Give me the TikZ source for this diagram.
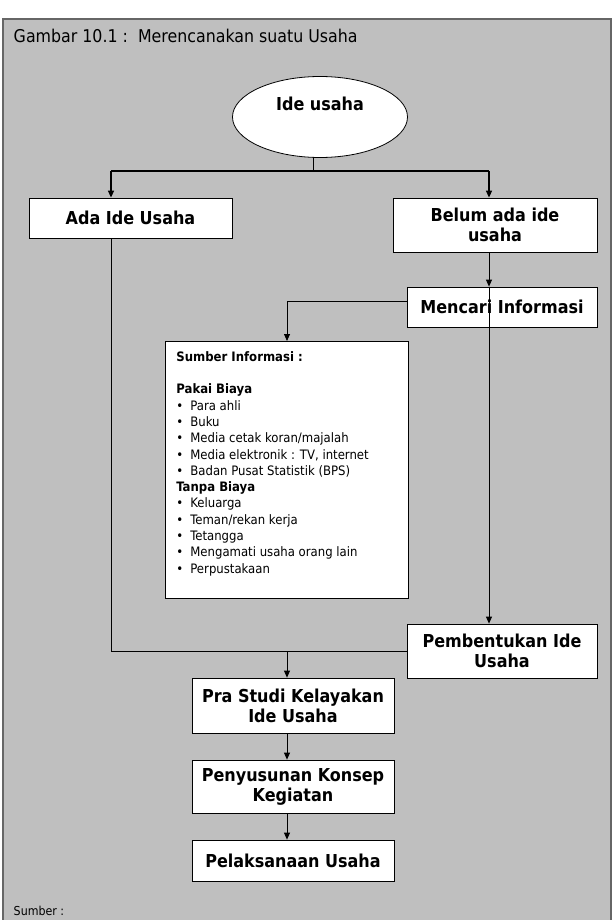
\documentclass[tikz,border=0pt]{standalone}
\usepackage{fontspec}
\setmainfont{DejaVu Sans Condensed}
\usetikzlibrary{arrows.meta,shapes.geometric}
\newcommand{\butir}[1]{\makebox[14pt][l]{\textbullet}#1}
\begin{document}
\begin{tikzpicture}[x=1pt, y=-1pt, line width=0.8pt, >={Triangle[length=7pt,width=6pt]},
main box/.style={rectangle,draw,fill=white,align=center,inner sep=0pt,font=\bfseries\fontsize{17.8}{20}\selectfont},
info box/.style={rectangle,draw,fill=white,anchor=north west,inner xsep=11pt,inner ysep=10pt,font=\fontsize{13}{16.3}\selectfont}]
\useasboundingbox (0,0) rectangle (614,920);
\draw[fill=black!25, draw=black!60, line width=1.5pt] (3,19) rectangle (611,940);
\begin{scope}[every node/.style={font=\fontsize{17.6}{20}\selectfont}]
\node[anchor=west] (judul) at (10,36) {Gambar 10.1 :\ \ Merencanakan suatu Usaha};
\node[anchor=west,font=\fontsize{12.3}{14}\selectfont] (sumberket) at (10,911) {Sumber :};
\end{scope}
\begin{scope}
\node[ellipse,draw,fill=white,minimum width=175pt,minimum height=81pt,inner sep=0pt,font=\bfseries\fontsize{17.8}{20}\selectfont,align=center] (ide) at (320,117) {Ide usaha\\[6pt]~};
\node[main box,minimum width=203pt,minimum height=40pt] (ada) at (130.5,218) {Ada Ide Usaha};
\node[main box,minimum width=204pt,minimum height=54pt] (belum) at (495,225) {Belum ada ide\\usaha};
\node[main box,minimum width=190pt,minimum height=40pt] (mencari) at (502,307) {Mencari Informasi};
\node[info box,minimum width=243pt] (sumber) at (165,341) {\parbox[t][237pt][t]{221pt}{\raggedright
\textbf{Sumber Informasi :}\\[16.3pt]
\textbf{Pakai Biaya}\\
\butir{Para ahli}\\
\butir{Buku}\\
\butir{Media cetak koran/majalah}\\
\butir{Media elektronik : TV, internet}\\
\butir{Badan Pusat Statistik (BPS)}\\
\textbf{Tanpa Biaya}\\
\butir{Keluarga}\\
\butir{Teman/rekan kerja}\\
\butir{Tetangga}\\
\butir{Mengamati usaha orang lain}\\
\butir{Perpustakaan}}};
\node[main box,minimum width=190pt,minimum height=54pt] (pembentukan) at (502,651) {Pembentukan Ide\\Usaha};
\node[main box,minimum width=202pt,minimum height=55pt] (pra) at (293,705.5) {Pra Studi Kelayakan\\Ide Usaha};
\node[main box,minimum width=202pt,minimum height=53pt] (penyusunan) at (293,786.5) {Penyusunan Konsep\\Kegiatan};
\node[main box,minimum width=202pt,minimum height=41pt] (pelaksanaan) at (293,860.5) {Pelaksanaan Usaha};
\end{scope}
\coordinate (cabang) at (313,171);
\coordinate (kiri) at (111,171);
\coordinate (kanan) at (489,171);
\coordinate (belok) at (287,301);
\coordinate (temu) at (287,651);
\begin{scope}
\draw (ide.south -| cabang) -- (cabang);
\draw[line width=2.5pt] (kiri) -- (kanan);
\draw[->,line width=1.5pt] (kiri) -- (kiri |- ada.north);
\draw[->,line width=1.5pt] (kanan) -- (kanan |- belum.north);
\draw[->] (belum.south -| kanan) -- (mencari.north -| kanan);
\draw[->] (mencari.north -| kanan) -- (pembentukan.north -| kanan);
\draw[->] (belok -| mencari.west) -- (belok) -- (belok |- sumber.north);
\draw (ada.south -| kiri) |- (pembentukan.west);
\draw[->] (temu) -- (temu |- pra.north);
\draw[->] (pra.south -| temu) -- (penyusunan.north -| temu);
\draw[->] (penyusunan.south -| temu) -- (pelaksanaan.north -| temu);
\end{scope}
\end{tikzpicture}
\end{document}
